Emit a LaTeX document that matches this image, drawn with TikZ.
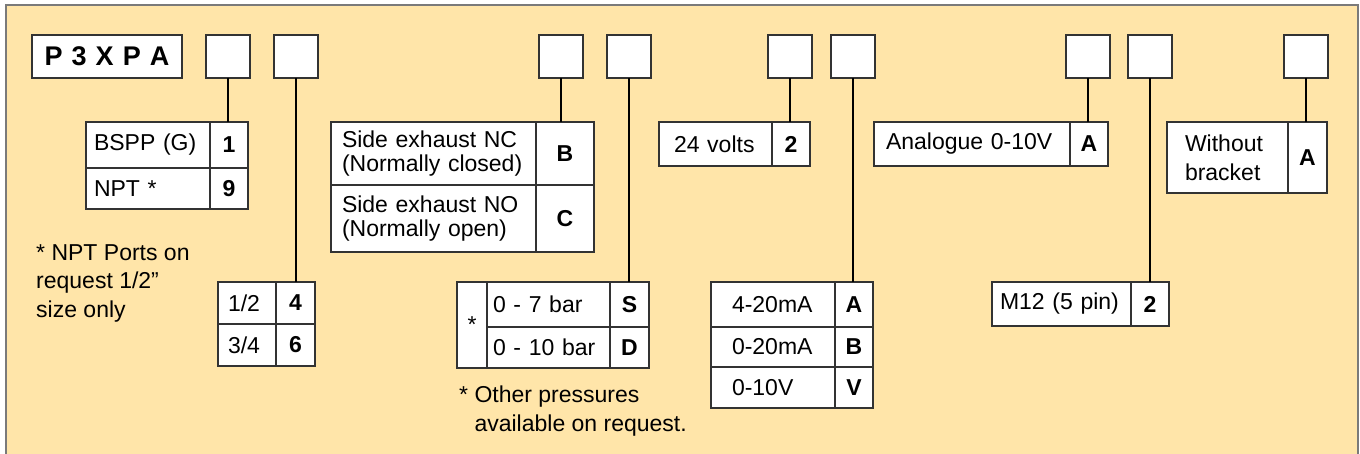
\documentclass[tikz,border=0pt]{standalone}
\usepackage{fontspec}
\setmainfont{Liberation Sans}
\usepackage{tikz}
\usetikzlibrary{positioning}
\definecolor{panel}{HTML}{FFE5A9}
\definecolor{rim}{HTML}{7A7A7A}
\definecolor{ink}{HTML}{333333}
\newcommand{\optfont}{\fontsize{23}{28}\selectfont}

\tikzset{
  box/.style={draw=ink, line width=1.4pt, fill=white, inner sep=0pt, outer sep=0pt, anchor=north west},
  slot/.style={box, minimum width=44pt, minimum height=43pt},
  lab/.style={box, align=left, font=\optfont},
  code/.style={box, font=\optfont\bfseries},
  link/.style={line width=2.6pt},
  note/.style={anchor=north west, align=left, inner sep=0pt, font=\fontsize{23}{28.5}\selectfont}
}

\begin{document}
\begin{tikzpicture}[x=1pt, y=-1pt]
  \useasboundingbox (0,0) rectangle (1360,454);
  \begin{scope}
    \clip (0,0) rectangle (1360,454);
    \fill[panel] (6,5) rectangle (1358,470);
    \draw[rim, line width=2pt] (6,470) -- (6,5) -- (1358,5) -- (1358,470);
  \end{scope}

  % model code and the option slots
  \node[box, minimum width=150pt, minimum height=43pt, font=\fontsize{27}{30}\selectfont\bfseries] (model) at (32,35)
    {P\hspace{9pt}3\hspace{9pt}X\hspace{9pt}P\hspace{9pt}A};
  \node[slot] (s1) at (206,35) {};
  \node[slot] (s2) at (274,35) {};
  \node[slot] (s3) at (539,35) {};
  \node[slot] (s4) at (607,35) {};
  \node[slot] (s5) at (768,35) {};
  \node[slot] (s6) at (831,35) {};
  \node[slot] (s7) at (1066,35) {};
  \node[slot] (s8) at (1128,35) {};
  \node[slot] (s9) at (1284,35) {};

  % ports
  \node[lab, text width=108pt, inner xsep=8pt, minimum height=46pt] (l1a) at (86,122) {BSPP (G)};
  \node[code, minimum width=38pt, minimum height=46pt, right=0pt of l1a] (c1a) {1};
  \node[lab, text width=108pt, inner xsep=8pt, minimum height=41pt, below=0pt of l1a] (l1b) {NPT *};
  \node[code, minimum width=38pt, minimum height=41pt, right=0pt of l1b] (c1b) {9};
  \node[note] (note1) at (36,244) {* NPT Ports on\\request 1/2”\\size only};

  % port size
  \node[lab, text width=38pt, inner xsep=10pt, minimum height=42pt] (l2a) at (218,282) {1/2};
  \node[code, minimum width=39pt, minimum height=42pt, right=0pt of l2a] (c2a) {4};
  \node[lab, text width=38pt, inner xsep=10pt, minimum height=42pt, below=0pt of l2a] (l2b) {3/4};
  \node[code, minimum width=39pt, minimum height=42pt, right=0pt of l2b] (c2b) {6};

  % exhaust
  \node[lab, text width=183pt, inner xsep=11pt, minimum height=63pt] (l3a) at (331,122)
    {Side exhaust NC\\[-4pt](Normally closed)};
  \node[code, minimum width=58pt, minimum height=63pt, right=0pt of l3a] (c3a) {B};
  \node[lab, text width=183pt, inner xsep=11pt, minimum height=67pt, below=0pt of l3a] (l3b)
    {Side exhaust NO\\[-4pt](Normally open)};
  \node[code, minimum width=58pt, minimum height=67pt, right=0pt of l3b] (c3b) {C};

  % pressure
  \node[lab, minimum width=30pt, minimum height=86pt] (star) at (457,282) {*};
  \node[lab, text width=111pt, inner xsep=6pt, minimum height=45pt] (l4a) at (487,282) {0 - 7 bar};
  \node[code, minimum width=39pt, minimum height=45pt, right=0pt of l4a] (c4a) {S};
  \node[lab, text width=111pt, inner xsep=6pt, minimum height=41pt, below=0pt of l4a] (l4b) {0 - 10 bar};
  \node[code, minimum width=39pt, minimum height=41pt, right=0pt of l4b] (c4b) {D};
  \node[note] (note2) at (459,386) {* Other pressures\\\phantom{* }available on request.};

  % voltage
  \node[lab, text width=83pt, inner xsep=15pt, minimum height=44pt] (l5a) at (659,122) {24 volts};
  \node[code, minimum width=38pt, minimum height=44pt, right=0pt of l5a] (c5a) {2};

  % output signal
  \node[lab, text width=82pt, inner xsep=21pt, minimum height=45pt] (l6a) at (711,282) {4-20mA};
  \node[code, minimum width=38pt, minimum height=45pt, right=0pt of l6a] (c6a) {A};
  \node[lab, text width=82pt, inner xsep=21pt, minimum height=40pt, below=0pt of l6a] (l6b) {0-20mA};
  \node[code, minimum width=38pt, minimum height=40pt, right=0pt of l6b] (c6b) {B};
  \node[lab, text width=82pt, inner xsep=21pt, minimum height=41pt, below=0pt of l6b] (l6c) {0-10V};
  \node[code, minimum width=38pt, minimum height=41pt, right=0pt of l6c] (c6c) {V};

  % display
  \node[lab, text width=172pt, inner xsep=12pt, minimum height=44pt] (l7a) at (874,122) {Analogue 0-10V};
  \node[code, minimum width=38pt, minimum height=44pt, right=0pt of l7a] (c7a) {A};

  % connector
  \node[lab, text width=123pt, inner xsep=8pt, minimum height=44pt] (l8a) at (992,282) {M12 (5 pin)};
  \node[code, minimum width=38pt, minimum height=44pt, right=0pt of l8a] (c8a) {2};

  % bracket
  \node[lab, text width=85pt, inner xsep=18pt, minimum height=71pt] (l9a) at (1167,122) {Without\\[1pt]bracket};
  \node[code, minimum width=39pt, minimum height=71pt, right=0pt of l9a] (c9a) {A};

  % slot to table
  \draw[link] (s1.south) -- (s1.south |- c1a.north);
  \draw[link] (s2.south) -- (s2.south |- c2a.north);
  \draw[link] (s3.south) -- (s3.south |- c3a.north);
  \draw[link] (s4.south) -- (s4.south |- c4a.north);
  \draw[link] (s5.south) -- (s5.south |- c5a.north);
  \draw[link] (s6.south) -- (s6.south |- c6a.north);
  \draw[link] (s7.south) -- (s7.south |- c7a.north);
  \draw[link] (s8.south) -- (s8.south |- c8a.north);
  \draw[link] (s9.south) -- (s9.south |- c9a.north);
\end{tikzpicture}
\end{document}
